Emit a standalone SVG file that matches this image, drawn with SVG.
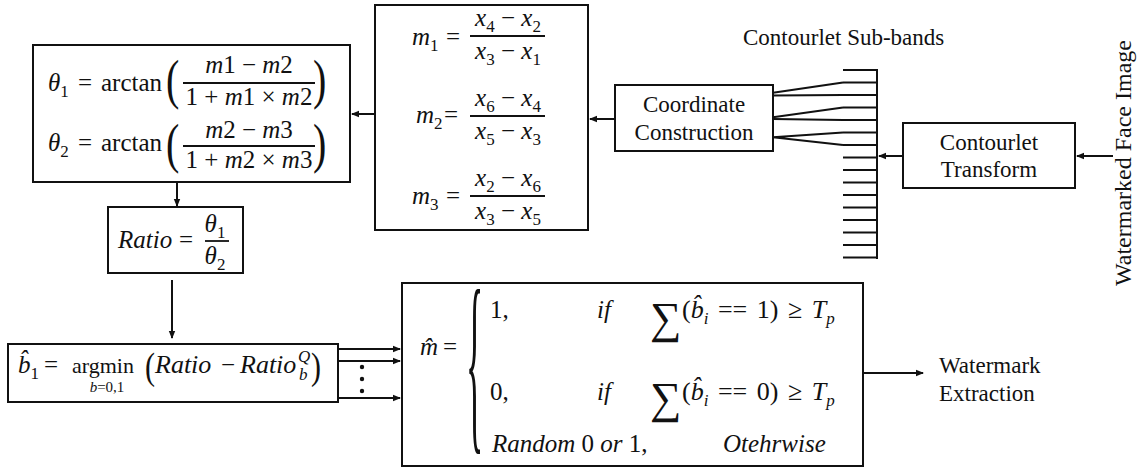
<svg xmlns="http://www.w3.org/2000/svg" width="1142" height="471" viewBox="0 0 1142 471">
<style>
.box{fill:#fff;stroke:#111;stroke-width:2}
.ln{fill:none;stroke:#111;stroke-width:2}
.t{font-family:"Liberation Serif","Times New Roman","DejaVu Serif",serif;font-size:23px;fill:#111}
.m{font-family:"Liberation Serif","Times New Roman","DejaVu Serif",serif;font-size:25px;fill:#111}
.i{font-style:italic}
.s{font-size:17px}
.mid{text-anchor:middle}
.bar{stroke:#111;stroke-width:1.8}
</style>
<defs>
<marker id="ah" markerWidth="8" markerHeight="8" refX="7" refY="4" orient="auto" markerUnits="userSpaceOnUse">
<path d="M0,0.8 L8,4 L0,7.2 Z" fill="#111"/>
</marker>
</defs>
<rect width="1142" height="471" fill="#fff"/>

<g id="theta-box">
<rect class="box" x="33" y="45" width="317" height="137"/>
<text class="m" y="91"><tspan x="48" class="i">θ</tspan><tspan class="s" dy="6">1</tspan></text>
<text class="m" x="78" y="91">=</text>
<text class="m" x="101" y="91">arctan</text>
<text class="m" transform="translate(166,97.8) scale(1,1.38)" style="font-size:40px">(</text>
<text class="m" transform="translate(313,97.8) scale(1,1.38)" style="font-size:40px">)</text>
<text class="m mid" x="249" y="73"><tspan class="i">m</tspan>1 − <tspan class="i">m</tspan>2</text>
<line class="bar" x1="183" y1="83" x2="315" y2="83"/>
<text class="m mid" x="249" y="105">1 + <tspan class="i">m</tspan>1 × <tspan class="i">m</tspan>2</text>
<text class="m" y="151"><tspan x="48" class="i">θ</tspan><tspan class="s" dy="6">2</tspan></text>
<text class="m" x="78" y="151">=</text>
<text class="m" x="101" y="151">arctan</text>
<text class="m" transform="translate(166,161.8) scale(1,1.38)" style="font-size:40px">(</text>
<text class="m" transform="translate(313,161.8) scale(1,1.38)" style="font-size:40px">)</text>
<text class="m mid" x="249" y="138"><tspan class="i">m</tspan>2 − <tspan class="i">m</tspan>3</text>
<line class="bar" x1="183" y1="146" x2="315" y2="146"/>
<text class="m mid" x="249" y="168">1 + <tspan class="i">m</tspan>2 × <tspan class="i">m</tspan>3</text>
</g>

<g id="slope-box">
<rect class="box" x="375" y="5" width="213" height="225"/>
<text class="m" y="45"><tspan x="412" class="i">m</tspan><tspan class="s" dy="6">1</tspan></text>
<text class="m" x="446" y="45">=</text>
<text class="m mid" x="508" y="26"><tspan class="i">x</tspan><tspan class="s" dy="6">4</tspan><tspan dy="-6"> − </tspan><tspan class="i">x</tspan><tspan class="s" dy="6">2</tspan></text>
<line class="bar" x1="470" y1="36" x2="545" y2="36"/>
<text class="m mid" x="508" y="59"><tspan class="i">x</tspan><tspan class="s" dy="6">3</tspan><tspan dy="-6"> − </tspan><tspan class="i">x</tspan><tspan class="s" dy="6">1</tspan></text>
<text class="m" y="123"><tspan x="416" class="i">m</tspan><tspan class="s" dy="6">2</tspan></text>
<text class="m" x="444" y="123">=</text>
<text class="m mid" x="508" y="106"><tspan class="i">x</tspan><tspan class="s" dy="6">6</tspan><tspan dy="-6"> − </tspan><tspan class="i">x</tspan><tspan class="s" dy="6">4</tspan></text>
<line class="bar" x1="470" y1="116" x2="545" y2="116"/>
<text class="m mid" x="508" y="139"><tspan class="i">x</tspan><tspan class="s" dy="6">5</tspan><tspan dy="-6"> − </tspan><tspan class="i">x</tspan><tspan class="s" dy="6">3</tspan></text>
<text class="m" y="204"><tspan x="412" class="i">m</tspan><tspan class="s" dy="6">3</tspan></text>
<text class="m" x="446" y="204">=</text>
<text class="m mid" x="508" y="186"><tspan class="i">x</tspan><tspan class="s" dy="6">2</tspan><tspan dy="-6"> − </tspan><tspan class="i">x</tspan><tspan class="s" dy="6">6</tspan></text>
<line class="bar" x1="470" y1="196" x2="545" y2="196"/>
<text class="m mid" x="508" y="219"><tspan class="i">x</tspan><tspan class="s" dy="6">3</tspan><tspan dy="-6"> − </tspan><tspan class="i">x</tspan><tspan class="s" dy="6">5</tspan></text>
</g>

<g id="coordinate-construction">
<rect class="box" x="615" y="85" width="158" height="66"/>
<text class="t mid" x="694" y="112">Coordinate</text>
<text class="t mid" x="694" y="140">Construction</text>
</g>

<g id="subbands">
<text class="t" x="743" y="45">Contourlet Sub-bands</text>
<path class="ln" d="M877,69 V259 M843,70 H877 M843,82.5 H877 M843,95 H877 M843,107.5 H877 M843,120 H877 M843,132.5 H877 M843,145 H877 M843,157.5 H877 M843,170 H877 M843,182.5 H877 M843,195 H877 M843,207.5 H877 M843,220 H877 M843,232.5 H877 M843,245 H877 M843,257.5 H877"/>
</g>

<g id="contourlet-transform">
<rect class="box" x="903" y="123" width="172" height="65"/>
<text class="t mid" x="989" y="150">Contourlet</text>
<text class="t mid" x="989" y="177">Transform</text>
</g>

<g id="input-label">
<text class="t mid" style="font-size:24px" transform="translate(1131,163) rotate(-90)">Watermarked Face Image</text>
</g>

<g id="ratio-box">
<rect class="box" x="108" y="207" width="135" height="66"/>
<text class="m i" x="118" y="248">Ratio</text>
<text class="m" x="179" y="248">=</text>
<text class="m mid" x="215" y="232"><tspan class="i">θ</tspan><tspan class="s" dy="6">1</tspan></text>
<line class="bar" x1="205" y1="241" x2="229" y2="241"/>
<text class="m mid" x="215" y="264"><tspan class="i">θ</tspan><tspan class="s" dy="6">2</tspan></text>
</g>

<g id="bit-box">
<rect class="box" x="8" y="344" width="330" height="58"/>
<text class="m" y="373"><tspan x="18" class="i">b̂</tspan><tspan class="s" dy="6">1</tspan></text>
<text class="m" x="44" y="373">=</text>
<text class="m" x="72" y="373" style="font-size:22px">argmin</text>
<text class="m i mid" x="107" y="392" style="font-size:15px">b<tspan style="font-style:normal">=0,1</tspan></text>
<text class="m" transform="translate(145,379) scale(1,1.25)" style="font-size:30px">(</text>
<text class="m i" x="155" y="373" style="font-size:26px">Ratio</text>
<text class="m" x="221" y="373">−</text>
<text class="m i" x="240" y="373" style="font-size:26px">Ratio</text>
<text class="m i s" x="298" y="362">Q</text>
<text class="m i s" x="299" y="380">b</text>
<text class="m" transform="translate(311,379) scale(1,1.25)" style="font-size:30px">)</text>
</g>

<g id="decision-box">
<rect class="box" x="402" y="283" width="461" height="183"/>
<text class="m i" x="420" y="355">m̂</text>
<text class="m" x="443" y="355">=</text>
<text class="m" transform="translate(466,427) scale(1,5.56)" style="font-size:36px">{</text>
<text class="m" x="490" y="318">1,</text>
<text class="m i" x="597" y="318">if</text>
<text class="m" x="650" y="333" style="font-size:44px">∑</text>
<text class="m" x="682" y="318" style="font-size:26px;word-spacing:3px">(<tspan class="i">b̂</tspan><tspan class="s i" dy="6">i</tspan><tspan dy="-6"> == 1) ≥ </tspan><tspan class="i">T</tspan><tspan class="s i" dy="6">p</tspan></text>
<text class="m" x="490" y="400">0,</text>
<text class="m i" x="597" y="400">if</text>
<text class="m" x="650" y="413" style="font-size:44px">∑</text>
<text class="m" x="682" y="400" style="font-size:26px;word-spacing:3px">(<tspan class="i">b̂</tspan><tspan class="s i" dy="6">i</tspan><tspan dy="-6"> == 0) ≥ </tspan><tspan class="i">T</tspan><tspan class="s i" dy="6">p</tspan></text>
<text class="m" x="492" y="452"><tspan class="i">Random</tspan> 0 <tspan class="i">or</tspan> 1,</text>
<text class="m i" x="723" y="452">Otehrwise</text>
</g>

<g id="output-label">
<text class="t" x="939" y="373">Watermark</text>
<text class="t" x="939" y="401">Extraction</text>
</g>

<g id="connectors">
<line class="ln" x1="1113" y1="156" x2="1077" y2="156" marker-end="url(#ah)"/>
<line class="ln" x1="903" y1="156" x2="879" y2="156" marker-end="url(#ah)"/>
<line class="ln" x1="615" y1="119" x2="590" y2="119" marker-end="url(#ah)"/>
<line class="ln" x1="375" y1="114" x2="352" y2="114" marker-end="url(#ah)"/>
<line class="ln" x1="177" y1="182" x2="177" y2="206" marker-end="url(#ah)"/>
<line class="ln" x1="172" y1="280" x2="172" y2="338" marker-end="url(#ah)"/>
<line class="ln" x1="338" y1="349" x2="400" y2="349" marker-end="url(#ah)"/>
<line class="ln" x1="338" y1="361" x2="400" y2="361" marker-end="url(#ah)"/>
<line class="ln" x1="338" y1="398" x2="400" y2="398" marker-end="url(#ah)"/>
<line class="ln" x1="863" y1="373" x2="923" y2="373" marker-end="url(#ah)"/>
<path class="ln" d="M773,92.7 L843,82.5 M773,95.5 L843,95 M773,117.3 L843,107.5 M773,119 L843,120 M773,137.3 L843,132.5 M773,137.3 L843,145"/>
<circle cx="362" cy="367" r="2.2" fill="#111"/>
<circle cx="362" cy="379" r="2.2" fill="#111"/>
<circle cx="362" cy="391" r="2.2" fill="#111"/>
</g>
</svg>
